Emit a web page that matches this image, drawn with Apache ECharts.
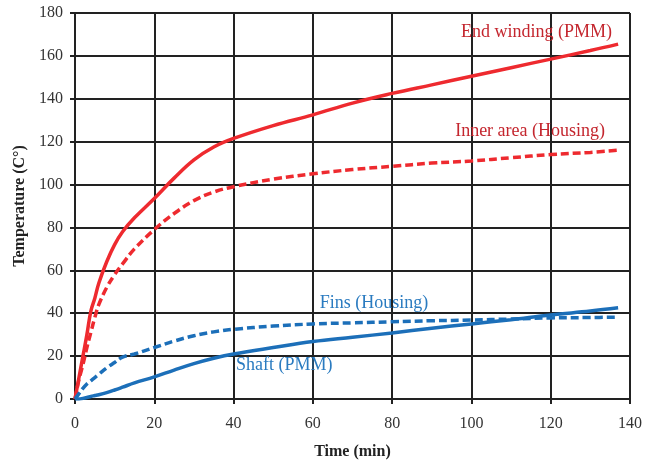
<!DOCTYPE html>
<html>
<head>
<meta charset="utf-8">
<script src="https://cdn.jsdelivr.net/npm/echarts@6/dist/echarts.min.js"></script>
<style>
  html, body { margin: 0; padding: 0; background: #fff; }
  #main { width: 654px; height: 463px; }
</style>
</head>
<body>
<div id="main"></div>
<script>
// time (min)
const times = [0, 1, 2, 3, 4, 5, 6, 8, 10, 12, 15, 20, 25, 30, 35, 40, 50, 60, 70, 80, 90, 100, 110, 120, 130, 137]
const endWinding = [0, 10, 20, 30, 41, 47, 54, 64, 72, 78, 84.5, 93.5, 103, 111.5, 117.5, 121.5, 127.5, 132.5, 138, 142.5, 146.5, 150.5, 154.5, 158.5, 162.5, 165.5]
const innerArea = [0, 9, 16, 24, 31, 38, 44, 52, 58, 63, 70, 79, 86.5, 92.5, 96.5, 99, 102.5, 105, 107, 108.5, 110, 111, 112.5, 114, 115, 116]
const fins = [0, 2.5, 5, 7, 8.5, 10, 11.5, 14.5, 17, 19.5, 21, 24, 27, 29.5, 31.3, 32.5, 34, 35, 35.5, 36, 36.5, 36.8, 37.3, 37.8, 38, 38.2]
const shaft = [0, 0, 0.3, 0.7, 1.2, 1.6, 2, 3, 4.2, 5.5, 7.5, 10.3, 13.5, 16.5, 19, 21, 24, 26.8, 28.8, 30.8, 33, 35, 37, 39.2, 41, 42.5]

const xTicks = [0, 20, 40, 60, 80, 100, 120, 140]
const yTicks = [0, 20, 40, 60, 80, 100, 120, 140, 160, 180]

const red = '#ee2a2f'
const blue = '#1c6fb9'
const serif = '"Liberation Serif", "Times New Roman", serif'

function pairs(ys) {
  return times.map((t, i) => [t, ys[i]])
}

// curve names written inside the plot, placed in data coordinates
function annot(text, coord, color) {
  return {
    symbol: 'rect',
    symbolSize: 1,
    silent: true,
    itemStyle: { color: 'rgba(0,0,0,0)' },
    data: [{
      coord: coord,
      label: {
        show: true,
        formatter: text,
        position: 'inside',
        color: color,
        fontFamily: serif,
        fontSize: 18
      }
    }]
  }
}

const chart = echarts.init(document.getElementById('main'))
const option = {
  backgroundColor: '#fff',
  animation: false,
  grid: { left: 75, right: 24, top: 13, bottom: 64, outerBoundsMode: 'none' },
  xAxis: {
    type: 'value',
    min: 0,
    max: 140,
    interval: 20,
    name: 'Time (min)',
    nameLocation: 'middle',
    nameGap: 45,
    nameTextStyle: { fontFamily: serif, fontWeight: 'bold', fontSize: 16, color: '#222' },
    axisLine: { lineStyle: { color: '#222', width: 2 } },
    axisTick: { show: true, length: 5, lineStyle: { color: '#222', width: 2 } },
    axisLabel: {
      fontFamily: serif, fontSize: 16, color: '#333', margin: 17,
      formatter: v => xTicks.includes(v) ? String(v) : ''
    },
    splitLine: { show: true, lineStyle: { color: '#222', width: 2 } }
  },
  yAxis: {
    type: 'value',
    min: 0,
    max: 180,
    interval: 20,
    name: 'Temperature (C°)',
    nameLocation: 'middle',
    nameGap: 37,
    nameTextStyle: { fontFamily: serif, fontWeight: 'bold', fontSize: 16, color: '#222' },
    axisLine: { show: true, lineStyle: { color: '#222', width: 2 } },
    axisTick: { show: true, length: 5, lineStyle: { color: '#222', width: 2 } },
    axisLabel: {
      fontFamily: serif, fontSize: 16, color: '#333', margin: 12,
      formatter: v => yTicks.includes(v) ? String(v) : ''
    },
    splitLine: { show: true, lineStyle: { color: '#222', width: 2 } }
  },
  series: [
    {
      name: 'End winding (PMM)',
      type: 'line',
      smooth: 0.4,
      showSymbol: false,
      data: pairs(endWinding),
      lineStyle: { color: red, width: 3.5 },
      markPoint: annot('End winding (PMM)', [116.4, 171.2], '#c4262e')
    },
    {
      name: 'Inner area (Housing)',
      type: 'line',
      smooth: 0.4,
      showSymbol: false,
      data: pairs(innerArea),
      lineStyle: { color: red, width: 3.5, type: [8, 4] },
      markPoint: annot('Inner area (Housing)', [114.8, 125], '#c4262e')
    },
    {
      name: 'Fins (Housing)',
      type: 'line',
      smooth: 0.4,
      showSymbol: false,
      data: pairs(fins),
      lineStyle: { color: blue, width: 3.5, type: [8, 4] },
      markPoint: annot('Fins (Housing)', [75.4, 44.8], '#2a7bc0')
    },
    {
      name: 'Shaft (PMM)',
      type: 'line',
      smooth: 0.4,
      showSymbol: false,
      data: pairs(shaft),
      lineStyle: { color: blue, width: 3.5 },
      markPoint: annot('Shaft (PMM)', [52.8, 15.9], '#2a7bc0')
    }
  ]
}
chart.setOption(option)
</script>
</body>
</html>
